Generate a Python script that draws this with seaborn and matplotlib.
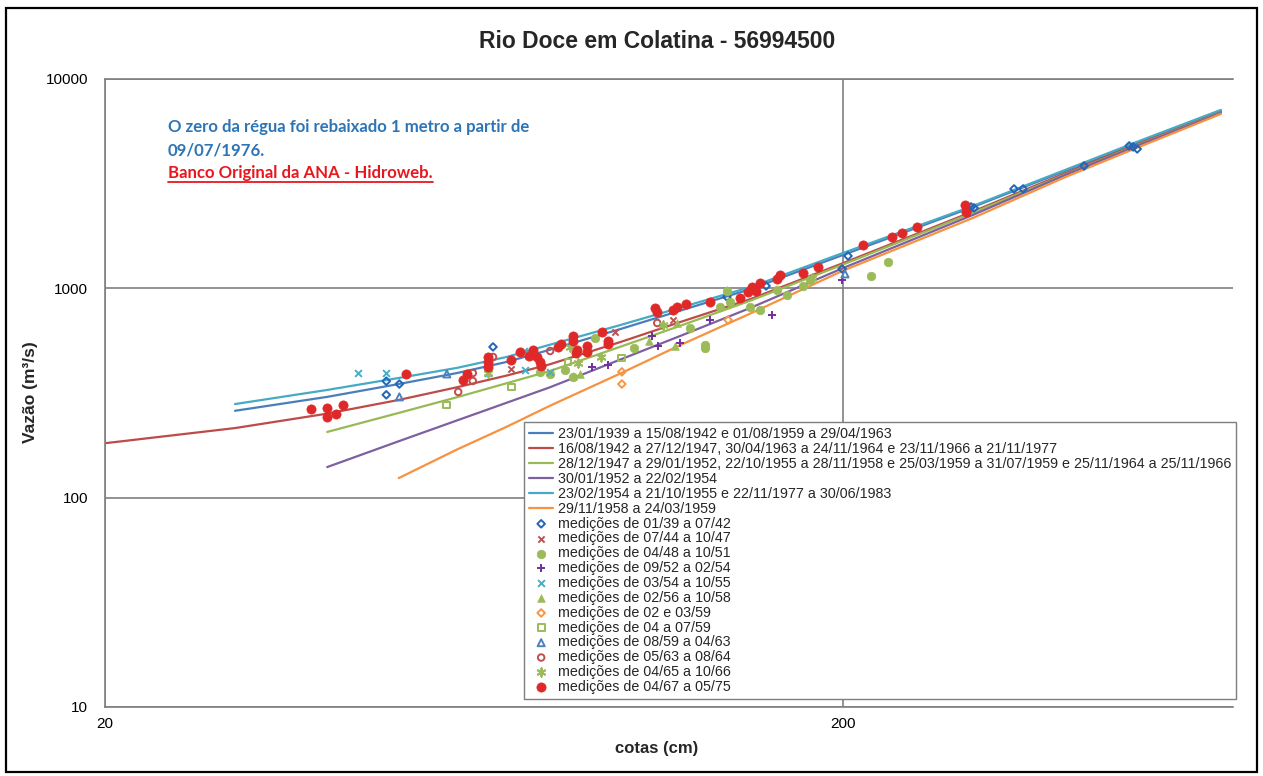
import matplotlib
matplotlib.use("Agg")
import matplotlib.pyplot as plt
import seaborn as sns
from matplotlib.lines import Line2D
from matplotlib.patches import Rectangle
from matplotlib.ticker import FixedLocator, FixedFormatter, NullLocator

sns.set_style("white")
plt.rcParams['font.family'] = ['Liberation Sans', 'DejaVu Sans']

# ---------------- rating curves: cota (cm) -> vazão (m³/s) ----------------
curve_labels = [
    "23/01/1939 a 15/08/1942 e 01/08/1959 a 29/04/1963",
    "16/08/1942 a 27/12/1947, 30/04/1963 a 24/11/1964 e 23/11/1966 a 21/11/1977",
    "28/12/1947 a 29/01/1952, 22/10/1955 a 28/11/1958 e 25/03/1959 a 31/07/1959 e 25/11/1964 a 25/11/1966",
    "30/01/1952 a 22/02/1954",
    "23/02/1954 a 21/10/1955 e 22/11/1977 a 30/06/1983",
    "29/11/1958 a 24/03/1959",
]
curve_colors = ["#4A7EBB", "#BE4B48", "#98B954", "#7D60A0", "#46AAC5", "#F69240"]

cota_c1 = [30, 40, 50, 60, 70, 80, 100, 120, 150, 200, 300, 400, 500, 650]
vazao_c1 = [260, 303, 349, 394, 445, 508, 640, 780, 993, 1444, 2448, 3638, 4951, 7039]

cota_c2 = [20, 30, 40, 50, 60, 70, 80, 100, 120, 150, 200, 300, 400, 500, 650]
vazao_c2 = [182, 215, 252, 293, 337, 383, 433, 555, 688, 890, 1320, 2330, 3550, 4890, 6960]

cota_c3 = [40, 50, 60, 70, 80, 100, 120, 150, 200, 300, 400, 500, 650]
vazao_c3 = [206, 254, 302, 352, 402, 527, 660, 875, 1300, 2300, 3500, 4820, 6900]

cota_c4 = [40, 50, 60, 70, 80, 100, 120, 150, 200, 300, 400, 500, 650]
vazao_c4 = [140, 186, 234, 284, 336, 458, 590, 808, 1250, 2243, 3480, 4790, 6890]

cota_c5 = [30, 40, 50, 60, 70, 80, 100, 120, 150, 200, 300, 400, 500, 650]
vazao_c5 = [280, 327, 373, 417, 470, 537, 669, 806, 1016, 1476, 2476, 3679, 5006, 7117]

cota_c6 = [50, 60, 70, 80, 100, 120, 150, 200, 300, 400, 500, 650]
vazao_c6 = [124, 170, 218, 274, 393, 533, 760, 1215, 2170, 3400, 4690, 6810]

curves = [(cota_c1, vazao_c1), (cota_c2, vazao_c2), (cota_c3, vazao_c3),
          (cota_c4, vazao_c4), (cota_c5, vazao_c5), (cota_c6, vazao_c6)]

# ---------------- discharge measurements ----------------
meas_labels = [
    "medições de 01/39 a 07/42", "medições de 07/44 a 10/47", "medições de 04/48 a 10/51",
    "medições de 09/52 a 02/54", "medições de 03/54 a 10/55", "medições de 02/56 a 10/58",
    "medições de 02 e 03/59", "medições de 04 a 07/59", "medições de 08/59 a 04/63",
    "medições de 05/63 a 08/64", "medições de 04/65 a 10/66", "medições de 04/67 a 05/75",
]

cota_m1 = [48.1, 50.1, 48.1, 67.1, 139.2, 157.3, 199.4, 203.1, 298.2, 301.0, 340.9, 350.7, 424.2, 488.2, 494.4, 500.6]
vazao_m1 = [310, 349, 360, 525, 910, 1027, 1238, 1428, 2448, 2422, 2985, 2985, 3844, 4790, 4738, 4634]

cota_m2 = [71.0, 98.2, 117.7]
vazao_m2 = [412, 619, 706]

cota_m3 = [77.7, 80.2, 84.0, 86.1, 92.3, 104.2, 124.1, 130.0, 130.0, 136.2, 139.2, 140.6, 149.6, 154.4, 162.8, 168.0, 176.6, 180.5, 218.2, 230.2]
vazao_m3 = [399, 390, 407, 377, 580, 519, 647, 537, 519, 815, 972, 861, 815, 788, 983, 930, 1027, 1097, 1146, 1337]

cota_m4 = [91.4, 96.1, 110.2, 112.3, 120.3, 132.1, 160.3, 199.4]
vazao_m4 = [421, 431, 592, 531, 548, 706, 746, 1097]

cota_m5 = [44.0, 48.1, 66.1, 73.9, 74.2, 80.2]
vazao_m5 = [394, 394, 394, 502, 407, 399]

cota_m6 = [86.1, 88.0, 109.2, 118.4, 119.2, 139.2]
vazao_m6 = [381, 390, 561, 531, 683, 983]

cota_m7 = [100.3, 100.3, 139.7]
vazao_m7 = [399, 349, 706]

cota_m8 = [58.1, 71.0, 84.8, 100.1]
vazao_m8 = [277, 338, 445, 465]

cota_m9 = [50.1, 58.1, 201.2]
vazao_m9 = [303, 390, 1172]

cota_m10 = [60.2, 63.0, 63.0, 67.1, 80.2, 112.0]
vazao_m10 = [320, 394, 361, 470, 502, 683]

cota_m11 = [66.1, 85.3, 87.5, 94.0, 114.1, 181.6]
vazao_m11 = [394, 525, 440, 470, 669, 1121]

cota_m12 = [38.0, 40.0, 40.0, 41.1, 42.0, 51.2, 61.1, 61.9, 66.1, 66.1, 66.1, 71.0, 73.0,
            75.1, 76.0, 77.0, 77.7, 77.9, 82.2, 83.0, 86.1, 86.1, 86.9, 87.2, 90.0, 90.0,
            94.3, 96.1, 96.1, 111.3, 112.0, 117.7, 119.2, 122.6, 132.1, 145.0, 148.7,
            150.6, 152.5, 154.4, 162.8, 164.3, 176.6, 185.0, 212.8, 233.1, 240.4, 252.0,
            292.6, 293.5]
vazao_m12 = [265, 268, 243, 251, 277, 390, 366, 390, 470, 445, 421, 455, 497,
             475, 508, 470, 445, 426, 525, 543, 592, 561, 491, 508, 531, 497,
             619, 561, 543, 806, 771, 788, 815, 842, 861, 900, 961,
             1016, 972, 1061, 1109, 1159, 1184, 1265, 1612, 1760, 1839, 1966,
             2503, 2317]

meas = [(cota_m1, vazao_m1), (cota_m2, vazao_m2), (cota_m3, vazao_m3), (cota_m4, vazao_m4),
        (cota_m5, vazao_m5), (cota_m6, vazao_m6), (cota_m7, vazao_m7), (cota_m8, vazao_m8),
        (cota_m9, vazao_m9), (cota_m10, vazao_m10), (cota_m11, vazao_m11), (cota_m12, vazao_m12)]

# marker, colour, size, open (hollow) marker?
meas_styles = [
    ("D", "#2166B8", 15, True),
    ("x", "#C0504D", 20, False),
    ("o", "#9BBB59", 38, False),
    ("+", "#7030A0", 26, False),
    ("x", "#4BACC6", 24, False),
    ("^", "#9BBB59", 30, False),
    ("D", "#F79646", 15, True),
    ("s", "#9BBB59", 24, True),
    ("^", "#4F81BD", 26, True),
    ("o", "#C0504D", 22, True),
    ((6, 2, 0), "#9BBB59", 36, False),
    ("o", "#E02828", 44, False),
]

W, H = 1263, 776
fig = plt.figure(figsize=(W / 100, H / 100), dpi=100)
ax = fig.add_axes([105 / W, (H - 707) / H, (1233 - 105) / W, (707 - 79) / H])
ax.set_xscale("log")
ax.set_yscale("log")

for (cx, cy), lab, col in zip(curves, curve_labels, curve_colors):
    sns.lineplot(x=cx, y=cy, ax=ax, color=col, lw=1.6, label=lab,
                 estimator=None, sort=False)

for (mx, my), lab, (mk, col, s, hollow) in zip(meas, meas_labels, meas_styles):
    if hollow:
        sns.scatterplot(x=mx, y=my, ax=ax, marker=mk, s=s, label=lab,
                        facecolor="none", edgecolor=col, linewidth=1.4, zorder=3)
    elif mk in ("x", "+") or isinstance(mk, tuple):
        sns.scatterplot(x=mx, y=my, ax=ax, marker=mk, s=s, label=lab,
                        color=col, linewidth=1.4, zorder=3)
    else:
        sns.scatterplot(x=mx, y=my, ax=ax, marker=mk, s=s, label=lab,
                        color=col, edgecolor=col, linewidth=0.5, zorder=3)

ax.set_xlim(20, 675)
ax.set_ylim(10, 10000)

ax.xaxis.set_major_locator(FixedLocator([20, 200]))
ax.xaxis.set_major_formatter(FixedFormatter(["20", "200"]))
ax.xaxis.set_minor_locator(NullLocator())
ax.yaxis.set_major_locator(FixedLocator([10, 100, 1000, 10000]))
ax.yaxis.set_major_formatter(FixedFormatter(["10", "100", "1000", "10000"]))
ax.yaxis.set_minor_locator(NullLocator())

ax.grid(True, which="major", color="#7F7F7F", lw=1.2)
ax.set_axisbelow(True)
for side in ("left", "bottom", "top"):
    ax.spines[side].set_color("#7F7F7F")
    ax.spines[side].set_linewidth(1.2)
ax.spines["right"].set_visible(False)
ax.tick_params(axis="both", which="major", direction="out", length=5, width=1.2,
               color="#7F7F7F", labelsize=11, labelcolor="#000000")
ax.tick_params(axis="y", pad=7)
ax.tick_params(axis="x", pad=2)
ax.set_xlabel("")
ax.set_ylabel("")

handles, labels = ax.get_legend_handles_labels()
leg = ax.legend(handles, labels, loc="lower right",
                bbox_to_anchor=(1236 / W, (H - 699) / H), bbox_transform=fig.transFigure,
                borderaxespad=0, frameon=True, fancybox=False, fontsize=10.3,
                labelspacing=0.06, handlelength=1.7, handletextpad=0.3,
                borderpad=0.35, scatterpoints=1, framealpha=1)
leg.get_frame().set_edgecolor("#7F7F7F")
leg.get_frame().set_linewidth(1.0)

fig.text(657 / W, 1 - 42 / H, "Rio Doce em Colatina - 56994500", ha="center", va="center",
         fontsize=16.5, fontweight="bold")
fig.text(657 / W, 1 - 748 / H, "cotas (cm)", ha="center", va="center",
         fontsize=12, fontweight="bold")
fig.text(30 / W, 1 - 392 / H, "Vazão (m³/s)", ha="center", va="center", rotation=90,
         fontsize=12.5, fontweight="bold")

note_font = ["Lato", "DejaVu Sans"]
fig.text(168 / W, 1 - 132 / H, "O zero da régua foi rebaixado 1 metro a partir de",
         ha="left", va="baseline", fontsize=12.1, fontweight="bold", color="#2E75B6",
         family=note_font)
fig.text(168 / W, 1 - 155 / H, "09/07/1976.", ha="left", va="baseline", fontsize=12.1,
         fontweight="bold", color="#2E75B6", family=note_font)
red_note = fig.text(168 / W, 1 - 178 / H, "Banco Original da ANA - Hidroweb.", ha="left",
                    va="baseline", fontsize=12.1, fontweight="bold", color="#E8171F",
                    family=note_font)

# underline the red note
fig.canvas.draw()
bb = red_note.get_window_extent(fig.canvas.get_renderer())
fig.add_artist(Line2D([bb.x0 / W, bb.x1 / W], [1 - 182 / H, 1 - 182 / H],
                      transform=fig.transFigure, color="#E8171F", lw=1.3))

# outer frame around the whole chart
fig.add_artist(Rectangle((6 / W, 4 / H), (1257 - 6) / W, (772 - 8) / H,
                         transform=fig.transFigure, fill=False, ec="black", lw=1.6))

fig.savefig("out.png", dpi=100)
